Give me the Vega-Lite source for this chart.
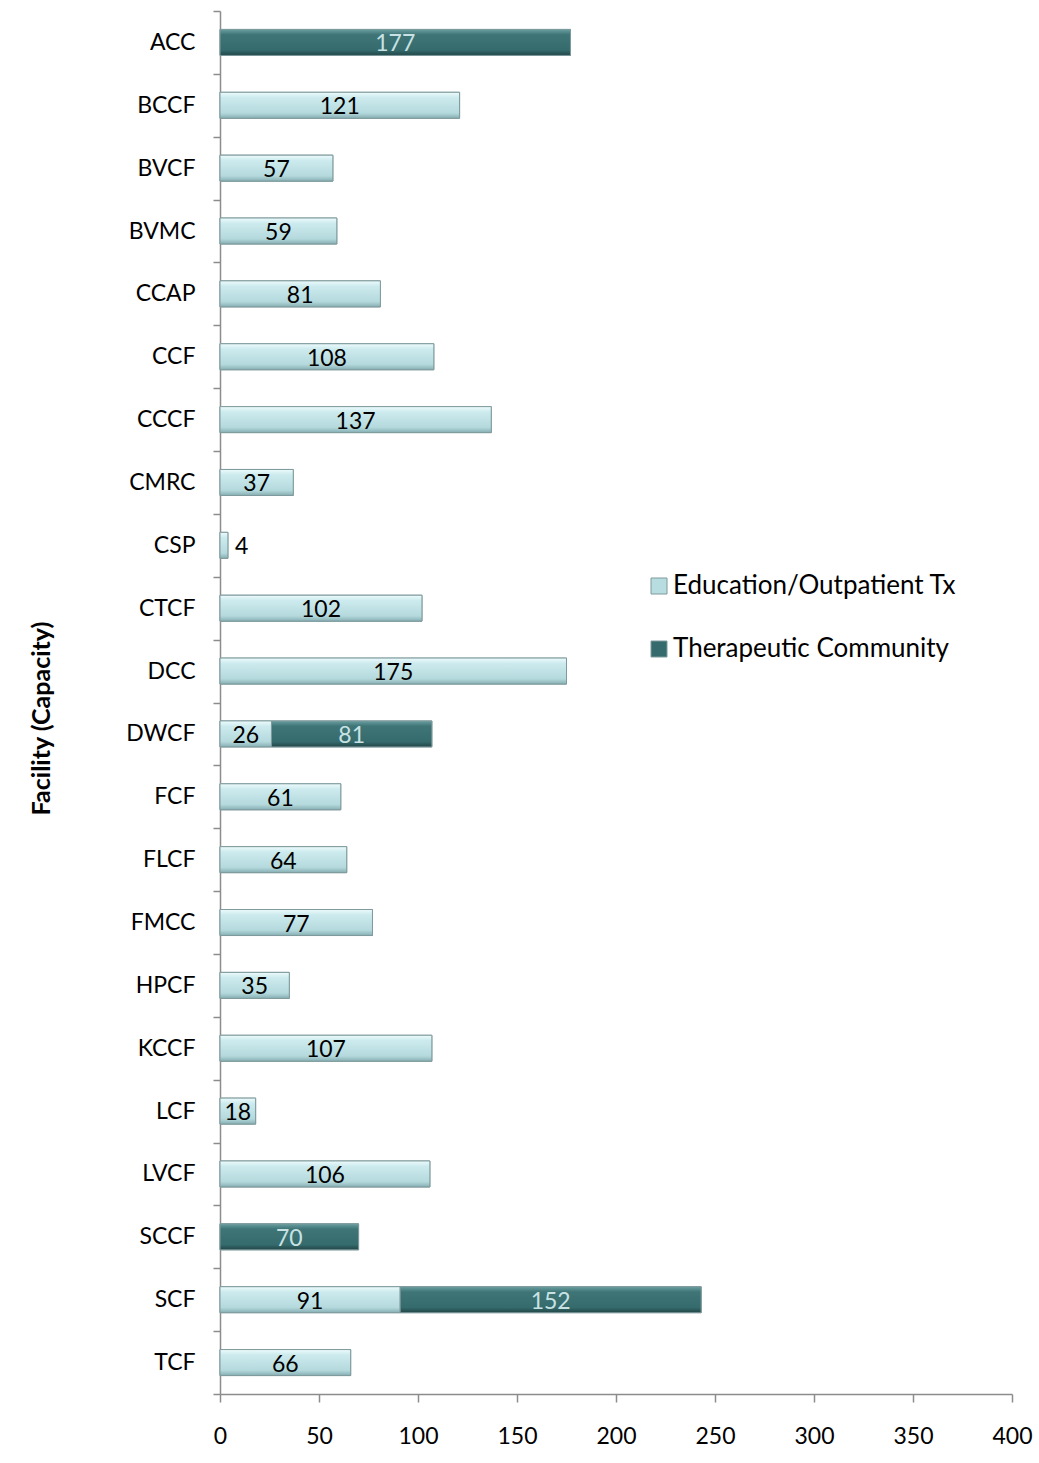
{
  "$schema": "https://vega.github.io/schema/vega-lite/v6.json",
  "width": 792,
  "height": 1383,
  "padding": {"left": 29, "top": 0, "right": 5, "bottom": 5},
  "config": {
    "font": "Lato",
    "view": {"stroke": null},
    "background": "white"
  },
  "data": {
    "values": [
      {"facility": "ACC", "program": "Therapeutic Community", "capacity": 177},
      {"facility": "BCCF", "program": "Education/Outpatient Tx", "capacity": 121},
      {"facility": "BVCF", "program": "Education/Outpatient Tx", "capacity": 57},
      {"facility": "BVMC", "program": "Education/Outpatient Tx", "capacity": 59},
      {"facility": "CCAP", "program": "Education/Outpatient Tx", "capacity": 81},
      {"facility": "CCF", "program": "Education/Outpatient Tx", "capacity": 108},
      {"facility": "CCCF", "program": "Education/Outpatient Tx", "capacity": 137},
      {"facility": "CMRC", "program": "Education/Outpatient Tx", "capacity": 37},
      {"facility": "CSP", "program": "Education/Outpatient Tx", "capacity": 4},
      {"facility": "CTCF", "program": "Education/Outpatient Tx", "capacity": 102},
      {"facility": "DCC", "program": "Education/Outpatient Tx", "capacity": 175},
      {"facility": "DWCF", "program": "Education/Outpatient Tx", "capacity": 26},
      {"facility": "DWCF", "program": "Therapeutic Community", "capacity": 81},
      {"facility": "FCF", "program": "Education/Outpatient Tx", "capacity": 61},
      {"facility": "FLCF", "program": "Education/Outpatient Tx", "capacity": 64},
      {"facility": "FMCC", "program": "Education/Outpatient Tx", "capacity": 77},
      {"facility": "HPCF", "program": "Education/Outpatient Tx", "capacity": 35},
      {"facility": "KCCF", "program": "Education/Outpatient Tx", "capacity": 107},
      {"facility": "LCF", "program": "Education/Outpatient Tx", "capacity": 18},
      {"facility": "LVCF", "program": "Education/Outpatient Tx", "capacity": 106},
      {"facility": "SCCF", "program": "Therapeutic Community", "capacity": 70},
      {"facility": "SCF", "program": "Education/Outpatient Tx", "capacity": 91},
      {"facility": "SCF", "program": "Therapeutic Community", "capacity": 152},
      {"facility": "TCF", "program": "Education/Outpatient Tx", "capacity": 66}
    ]
  },
  "transform": [
    {"stack": "capacity", "groupby": ["facility"], "sort": [{"field": "program"}], "as": ["c0", "c1"]}
  ],
  "encoding": {
    "y": {
      "field": "facility",
      "type": "nominal",
      "sort": null,
      "scale": {"paddingInner": 0, "paddingOuter": 0},
      "axis": {
        "title": "Facility (Capacity)",
        "titleFontSize": 25,
        "titleFontWeight": "bold",
        "titleColor": "black",
        "titlePadding": 71,
        "titleY": 707,
        "labelFontSize": 23,
        "labelColor": "black",
        "labelPadding": 18,
        "tickBand": "extent",
        "tickSize": 7,
        "tickColor": "#8c8c8c",
        "domainColor": "#8c8c8c",
        "domainWidth": 1.5,
        "tickWidth": 1.5
      }
    },
    "x": {
      "field": "c0",
      "type": "quantitative",
      "scale": {"domain": [0, 400]},
      "axis": {
        "title": null,
        "values": [0, 50, 100, 150, 200, 250, 300, 350, 400],
        "labelFontSize": 23,
        "labelColor": "black",
        "labelPadding": 23,
        "labelFlush": false,
        "tickSize": 8,
        "tickColor": "#8c8c8c",
        "domainColor": "#8c8c8c",
        "domainWidth": 1.5,
        "tickWidth": 1.5,
        "grid": false
      }
    },
    "x2": {"field": "c1"}
  },
  "layer": [
    {
      "mark": {"type": "bar", "size": 26, "stroke": "#7f9a9c", "strokeWidth": 1},
      "encoding": {
        "color": {
          "field": "program",
          "type": "nominal",
          "scale": {
            "domain": ["Education/Outpatient Tx", "Therapeutic Community"],
            "range": ["#b8dde1", "#356b6d"]
          },
          "legend": {
            "title": null,
            "orient": "none",
            "legendX": 426,
            "legendY": 562,
            "symbolType": "square",
            "symbolSize": 256,
            "symbolStrokeColor": "#7f9a9c",
            "symbolStrokeWidth": 1,
            "labelFontSize": 26,
            "labelColor": "black",
            "labelOffset": 1,
            "rowPadding": 37,
            "labelLimit": 400
          }
        }
      }
    },
    {
      "mark": {"type": "bar", "size": 26, "stroke": "#7f9a9c", "strokeWidth": 1},
      "encoding": {
        "fill": {
          "condition": {
            "test": "datum.program === 'Therapeutic Community'",
            "value": {
              "x1": 0, "y1": 0, "x2": 0, "y2": 1,
              "gradient": "linear",
              "stops": [
                {"offset": 0, "color": "#6a9fa1"},
                {"offset": 0.2, "color": "#3f7577"},
                {"offset": 0.8, "color": "#356b6d"},
                {"offset": 1, "color": "#214546"}
              ]
            }
          },
          "value": {
            "x1": 0, "y1": 0, "x2": 0, "y2": 1,
            "gradient": "linear",
            "stops": [
              {"offset": 0, "color": "#eefbfc"},
              {"offset": 0.2, "color": "#cdebee"},
              {"offset": 0.8, "color": "#b4d9dd"},
              {"offset": 1, "color": "#86aeb2"}
            ]
          }
        }
      }
    },
    {
      "transform": [
        {"filter": "datum.capacity >= 10"},
        {"fold": ["c0", "c1"], "as": ["edge", "pos"]},
        {"aggregate": [{"op": "mean", "field": "pos", "as": "mid"}], "groupby": ["facility", "program", "capacity"]}
      ],
      "mark": {"type": "text", "fontSize": 23, "dy": 2},
      "encoding": {
        "x": {"field": "mid", "type": "quantitative"},
        "x2": null,
        "text": {"field": "capacity", "type": "quantitative"},
        "color": {
          "condition": {"test": "datum.program === 'Therapeutic Community'", "value": "#c8e2e4"},
          "value": "black"
        }
      }
    },
    {
      "transform": [{"filter": "datum.capacity < 10"}],
      "mark": {"type": "text", "fontSize": 23, "dy": 2, "align": "left", "dx": 7},
      "encoding": {
        "x": {"field": "c1", "type": "quantitative"},
        "x2": null,
        "text": {"field": "capacity", "type": "quantitative"},
        "color": {"value": "black"}
      }
    }
  ]
}
